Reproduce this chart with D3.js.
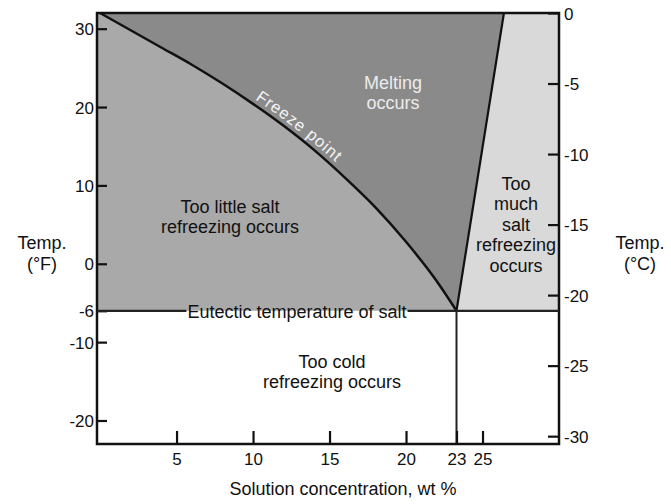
<!DOCTYPE html>
<html>
<head>
<meta charset="utf-8">
<script src="https://cdn.jsdelivr.net/npm/d3@7"></script>
<style>
  body { margin: 0; background: #fff; }
  svg text { font-family: "Liberation Sans", Arial, Helvetica, sans-serif; fill: #111; }
</style>
</head>
<body>
<svg id="chart"></svg>
<script>
// salt / ice phase diagram
const width = 671, height = 504;
const svg = d3.select("#chart").attr("width", width).attr("height", height);

// data
const freezeWt = [0, 2, 4, 6, 8, 10, 12, 14, 16, 18, 20, 22, 23.3];
const freezeF = [32, 29.8, 27.6, 25.4, 23.0, 20.4, 17.6, 14.5, 11.0, 7.2, 2.8, -2.2, -6];
const solubWt = [23.3, 26.4];
const solubF = [-6, 32];
const eutecticWt = 23.3;
const eutecticF = -6;
const xTicks = [5, 10, 15, 20, 23.3, 25];
const fTicks = [30, 20, 10, 0, -6, -10, -20];
const cTicks = [0, -5, -10, -15, -20, -25, -30];

const mLeft = 97, mRight = 559, mTop = 13, mBottom = 444;
const x = d3.scaleLinear().domain([-0.2, 30]).range([mLeft, mRight]);
const y = d3.scaleLinear().domain([-23, 32]).range([mBottom, mTop]);
const yC = d3.scaleLinear().domain([(-23 - 32) * 5 / 9, 0]).range([mBottom, mTop]);

const freezePts = freezeWt.map((w, i) => [x(w), y(freezeF[i])]);
const solubPts = solubWt.map((w, i) => [x(w), y(solubF[i])]);
const line = d3.line().curve(d3.curveMonotoneX);
const freezePath = line(freezePts);

const x0 = x.domain()[0], x1 = x.domain()[1];

// too little salt
svg.append("path")
    .attr("d", freezePath + `L${x(x0)},${y(eutecticF)}L${x(x0)},${y(32)}Z`)
    .attr("fill", "#a9a9a9");
// melting
svg.append("path")
    .attr("d", freezePath + `L${solubPts[1][0]},${solubPts[1][1]}Z`)
    .attr("fill", "#8a8a8a");
// too much salt
svg.append("path")
    .attr("d", `M${solubPts[0]}L${solubPts[1]}L${x(x1)},${y(32)}L${x(x1)},${y(eutecticF)}Z`)
    .attr("fill", "#d9d9d9");

// curves
svg.append("path").attr("id", "freeze").attr("d", freezePath)
    .attr("fill", "none").attr("stroke", "#111").attr("stroke-width", 2.5);
svg.append("path").attr("d", d3.line()(solubPts))
    .attr("fill", "none").attr("stroke", "#111").attr("stroke-width", 2.2);
svg.append("line")
    .attr("x1", x(eutecticWt)).attr("x2", x(eutecticWt))
    .attr("y1", y(eutecticF)).attr("y2", mBottom)
    .attr("stroke", "#222").attr("stroke-width", 2);

// axes (plain hyphen for minus, as in the original)
const fmt = d => String(Math.round(d));
const gL = svg.append("g").attr("transform", `translate(${mLeft},0)`)
    .call(d3.axisLeft(y).tickValues(fTicks).tickSize(-10).tickPadding(3).tickFormat(fmt));
const gR = svg.append("g").attr("transform", `translate(${mRight},0)`)
    .call(d3.axisRight(yC).tickValues(cTicks).tickSize(-11).tickPadding(5).tickFormat(fmt));
const gB = svg.append("g").attr("transform", `translate(0,${mBottom})`)
    .call(d3.axisBottom(x).tickValues(xTicks).tickSize(-13).tickPadding(9).tickFormat(fmt));
[gL, gR, gB].forEach(g => {
    g.select(".domain").remove();
    g.selectAll(".tick line").attr("stroke", "#111").attr("stroke-width", 2.2);
    g.selectAll(".tick text").attr("font-size", 17).attr("fill", "#111")
        .style("font-family", '"Liberation Sans", Arial, sans-serif');
});
gL.selectAll(".tick text").attr("dy", "0.36em");
gR.selectAll(".tick text").attr("dy", "0.36em");

// frame
svg.append("rect")
    .attr("x", mLeft).attr("y", mTop)
    .attr("width", mRight - mLeft).attr("height", mBottom - mTop)
    .attr("fill", "none").attr("stroke", "#111").attr("stroke-width", 2.5);

// eutectic line with its label sitting on it
const eut = svg.append("text")
    .attr("x", 297).attr("y", y(eutecticF) + 7)
    .attr("text-anchor", "middle").attr("font-size", 18)
    .text("Eutectic temperature of salt");
const bb = eut.node().getBBox();
svg.append("line").attr("x1", mLeft).attr("x2", bb.x - 1)
    .attr("y1", y(eutecticF)).attr("y2", y(eutecticF))
    .attr("stroke", "#222").attr("stroke-width", 2.2);
svg.append("line").attr("x1", bb.x + bb.width + 1).attr("x2", mRight)
    .attr("y1", y(eutecticF)).attr("y2", y(eutecticF))
    .attr("stroke", "#222").attr("stroke-width", 2.2);

// multi-line labels
function label(lines, cx, by, lh, color) {
    const t = svg.append("text").attr("text-anchor", "middle").attr("font-size", 18)
        .style("fill", color || "#111");
    lines.forEach((s, i) => t.append("tspan").attr("x", cx).attr("y", by + i * lh).text(s));
}
label(["Melting", "occurs"], 393, 89, 20, "#ececec");
label(["Too little salt", "refreezing occurs"], 230, 213, 19.5);
label(["Too", "much", "salt", "refreezing", "occurs"], 516, 190, 20.4);
label(["Too cold", "refreezing occurs"], 332, 368, 20);
label(["Temp.", "(°F)"], 42, 249, 21);
label(["Temp.", "(°C)"], 640, 249, 21);
label(["Solution concentration, wt %"], 343, 495, 0);

// freeze point text along the curve
const fp = d3.select("#freeze").node();
let off = 0;
for (let L = 0; L < fp.getTotalLength(); L += 1) {
    if (fp.getPointAtLength(L).x >= 252) { off = L; break; }
}
svg.append("text").attr("font-size", 16.5).attr("dy", -5)
    .attr("letter-spacing", 0.9)
    .style("fill", "#f4f4f4")
    .append("textPath").attr("href", "#freeze").attr("startOffset", off)
    .text("Freeze point");
</script>
</body>
</html>
